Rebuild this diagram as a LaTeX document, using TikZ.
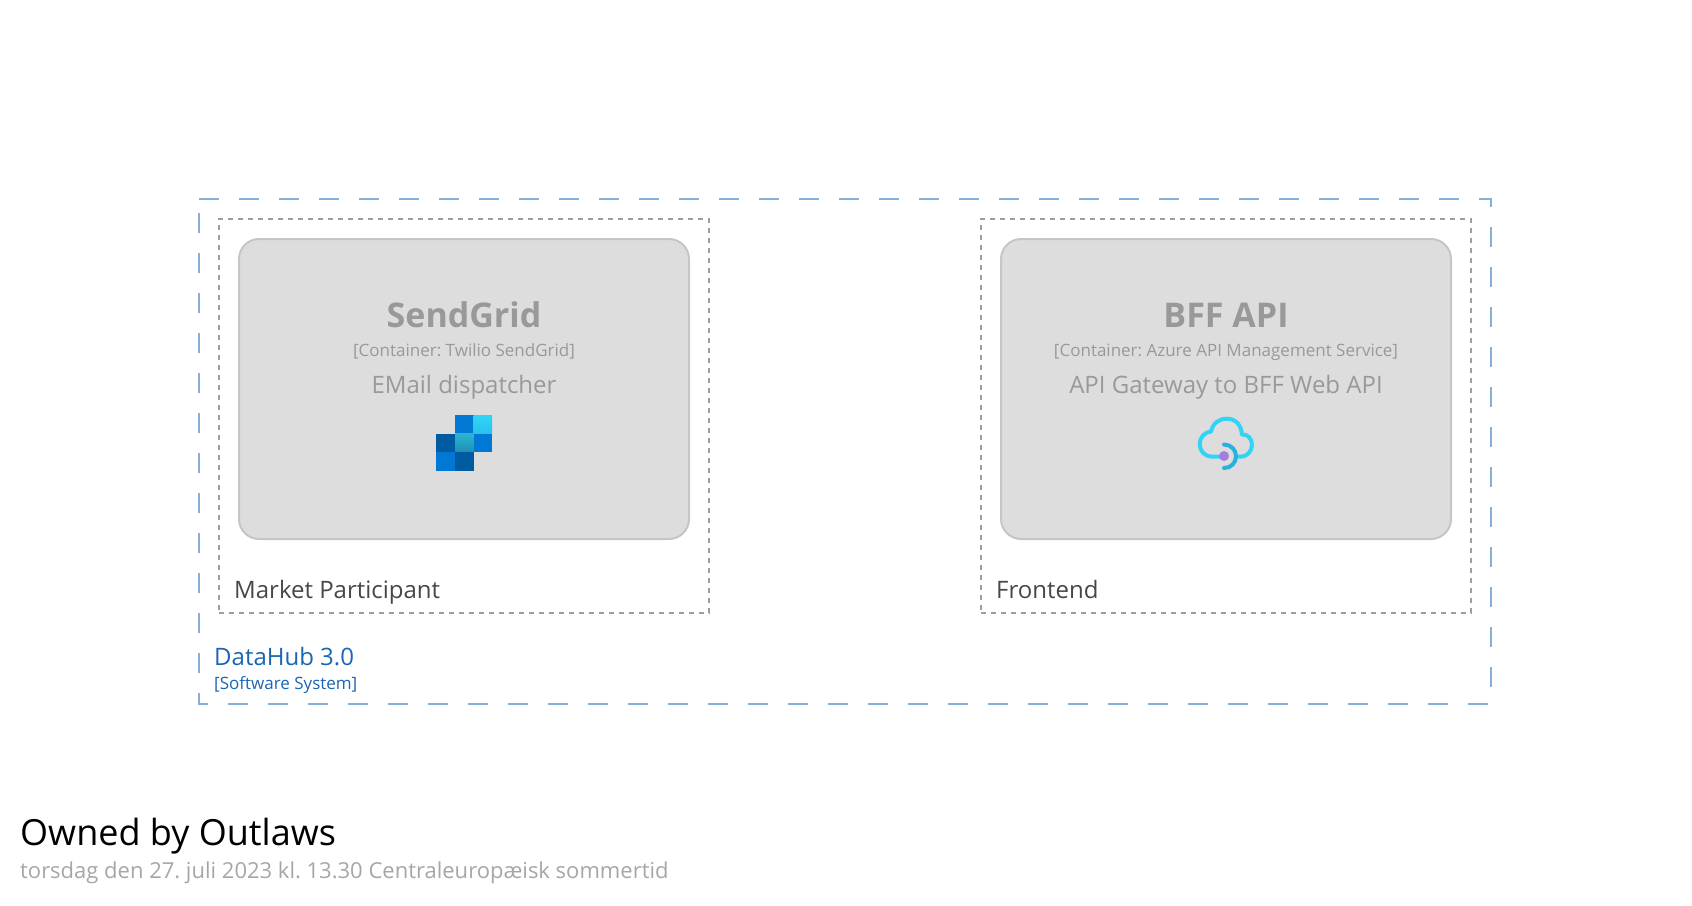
\documentclass[tikz,border=0pt]{standalone}
\usepackage{fontspec}
\setmainfont{Open Sans}
\usetikzlibrary{positioning}
\definecolor{boxfill}{HTML}{DDDDDD}
\definecolor{boxline}{HTML}{C6C6C6}
\definecolor{boxtext}{HTML}{999999}
\definecolor{groupline}{HTML}{9E9E9E}
\definecolor{systemline}{HTML}{88AFDA}
\definecolor{systemtext}{HTML}{1A65B5}
\definecolor{azureblue}{HTML}{0078D4}
\definecolor{azuredark}{HTML}{005BA1}
\definecolor{azurecyan}{HTML}{32D4F5}
\definecolor{azuremid}{HTML}{1E8FB8}
\definecolor{azurearc}{HTML}{29B0DC}
\definecolor{azurepurple}{HTML}{A67CE0}
\tikzset{
    container/.style={draw=boxline, fill=boxfill, line width=2pt, rounded corners=20pt, minimum width=450pt, minimum height=300pt, inner sep=0pt},
    groupbox/.style={draw=groupline, line width=2pt, dash pattern=on 5pt off 5pt, minimum width=490pt, minimum height=394pt, inner sep=0pt},
    boxtitle/.style={text=boxtext, font=\fontsize{34}{40}\selectfont\bfseries, inner sep=0pt},
    boxkind/.style={text=boxtext, font=\fontsize{17}{20}\selectfont, anchor=base, inner sep=0pt},
    boxdesc/.style={text=boxtext, font=\fontsize{24}{28}\selectfont, inner sep=0pt},
    grouplabel/.style={text=black!72, font=\fontsize{24}{30}\selectfont, anchor=base west, inner sep=0pt},
}
\begin{document}
\frenchspacing
\begin{tikzpicture}[x=1pt, y=-1pt]
    \useasboundingbox (0,0) rectangle (1692,905);

    % Software system boundary
    \draw[systemline, line width=2pt, dash pattern=on 20pt off 20pt] (199,199) -- (1491,199) -- (1491,704) -- (199,704) -- cycle;
    \node (datahub) at (214,665) [anchor=base west, inner sep=0pt, text=systemtext, font=\fontsize{24}{30}\selectfont] {DataHub 3.0};
    \node (datahubkind) at (214,689) [anchor=base west, inner sep=0pt, text=systemtext, font=\fontsize{17}{20}\selectfont] {[Software System]};

    % Groups
    \node[groupbox] (market) at (464,416) {};
    \node[groupbox] (frontend) at (1226,416) {};
    \node[grouplabel] (marketlabel) at (234,598) {Market Participant};
    \node[grouplabel] (frontendlabel) at (996,598) {Frontend};

    % Containers
    \node[container] (sendgrid) at (464,389) {};
    \node[container] (bff) at (1226,389) {};

    \node[boxtitle] (sendgridname) at (464,315) {SendGrid};
    \node[boxkind] (sendgridkind) at (464,356.5) {[Container: Twilio SendGrid]};
    \node[boxdesc] (sendgriddesc) at (464,387) {EMail dispatcher};
    \node[boxtitle] (bffname) at (1226,315) {BFF API};
    \node[boxkind] (bffkind) at (1226,356.5) {[Container: Azure API Management Service]};
    \node[boxdesc] (bffdesc) at (1226,387) {API Gateway to BFF Web API};

    % SendGrid icon
    \fill[azureblue] (455,415) rectangle (473.5,433.5);
    \shade[top color=azurecyan, bottom color=azurecyan!80!azureblue] (473.5,415) rectangle (492,433.5);
    \fill[azuredark] (436,433.5) rectangle (455,452);
    \shade[top color=azurecyan!85!black, bottom color=azuremid] (455,433.5) rectangle (473.5,452);
    \fill[azureblue] (473.5,433.5) rectangle (492,452);
    \fill[azureblue] (436,452) rectangle (455,471);
    \fill[azuredark] (455,452) rectangle (473.5,471);

    % BFF API icon
    \draw[azurecyan, line width=4pt, line cap=round, line join=round] (1224,456.7) -- (1212,456.7)
        .. controls (1205,456.7) and (1199.7,451) .. (1199.7,444.4)
        .. controls (1199.7,437) and (1205,432) .. (1211,431.5)
        .. controls (1213,423) and (1219,418.7) .. (1227,418.7)
        .. controls (1235,418.7) and (1241,424) .. (1242,434.5)
        .. controls (1248,434) and (1252,439) .. (1252,445)
        .. controls (1252,451) and (1247,456.7) .. (1241,456.7) -- (1236,456.7);
    \draw[azurearc, line width=4pt, line cap=round] (1224,444.5)
        .. controls (1231,444.5) and (1236,450) .. (1236,456)
        .. controls (1236,463) and (1231,468) .. (1224,468);
    \fill[azurepurple] (1224,456) circle (5);

    % Footer
    \node (title) at (20,845) [anchor=base west, inner sep=0pt, text=black, font=\fontsize{36}{42}\selectfont] {Owned by Outlaws};
    \node (date) at (20,878) [anchor=base west, inner sep=0pt, text=black!35, font=\fontsize{22}{28}\selectfont] {torsdag den 27. juli 2023 kl. 13.30 Centraleuropæisk sommertid};
\end{tikzpicture}
\end{document}
